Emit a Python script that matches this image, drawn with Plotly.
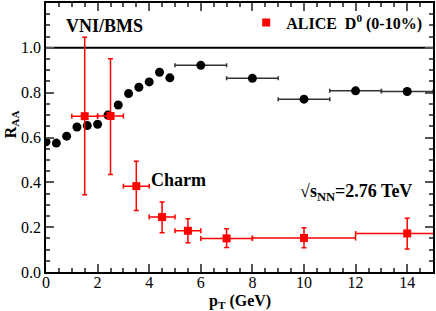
import plotly.graph_objects as go

# VNI/BMS charm prediction (black points)
vni_x_fine = [0, 0.4, 0.8, 1.2, 1.6, 2.0, 2.4, 2.8, 3.2, 3.6, 4.0, 4.4, 4.8]
vni_y_fine = [0.581, 0.575, 0.606, 0.647, 0.653, 0.659, 0.700, 0.745, 0.796, 0.824, 0.848, 0.891, 0.866]
vni_x_wide = [6, 8, 10, 12, 14]
vni_y_wide = [0.922, 0.864, 0.771, 0.808, 0.805]
vni_xerr_wide = [1, 1, 1, 1, 1]

# ALICE D0 (0-10%) data (red squares)
alice_x = [1.5, 2.5, 3.5, 4.5, 5.5, 7, 10, 14]
alice_y = [0.695, 0.696, 0.383, 0.245, 0.184, 0.150, 0.152, 0.172]
alice_yhi = [1.047, 0.951, 0.494, 0.312, 0.237, 0.193, 0.197, 0.240]
alice_ylo = [0.345, 0.435, 0.274, 0.175, 0.131, 0.109, 0.108, 0.103]
alice_xerr = [0.5, 0.5, 0.5, 0.5, 0.5, 1, 2, 2]

x_ticks = [0, 2, 4, 6, 8, 10, 12, 14]
y_ticks = [0.0, 0.2, 0.4, 0.6, 0.8, 1.0]
y_tick_labels = ["0.0", "0.2", "0.4", "0.6", "0.8", "1.0"]

SERIF = "Liberation Serif"

fig = go.Figure()

# reference line at R_AA = 1
fig.add_trace(go.Scatter(x=[0, 15], y=[1.0, 1.0], mode="lines",
                         line=dict(color="black", width=2), showlegend=False,
                         hoverinfo="skip"))

fig.add_trace(go.Scatter(x=vni_x_fine, y=vni_y_fine, mode="markers",
                         marker=dict(color="black", size=9, symbol="circle"),
                         showlegend=False))
fig.add_trace(go.Scatter(x=vni_x_wide, y=vni_y_wide, mode="markers",
                         marker=dict(color="black", size=9, symbol="circle"),
                         error_x=dict(type="data", array=vni_xerr_wide, color="#333333",
                                      thickness=1.5, width=2),
                         showlegend=False))

err_plus = [h - y for h, y in zip(alice_yhi, alice_y)]
err_minus = [y - l for l, y in zip(alice_ylo, alice_y)]
fig.add_trace(go.Scatter(x=alice_x, y=alice_y, mode="markers",
                         name="<b>ALICE  D<sup>0</sup> (0-10%)</b>",
                         marker=dict(color="#ff0000", size=8, symbol="square"),
                         error_y=dict(type="data", symmetric=False, array=err_plus,
                                      arrayminus=err_minus, color="#ff0000",
                                      thickness=1.5, width=2.5),
                         error_x=dict(type="data", array=alice_xerr, color="#ff0000",
                                      thickness=1.5, width=2.5),
                         showlegend=True))

axis_common = dict(showline=True, linecolor="black", linewidth=1.5, mirror="allticks",
                   ticks="inside", ticklen=8, tickwidth=1.5, tickcolor="#555555",
                   showgrid=False, zeroline=False,
                   tickfont=dict(family=SERIF, size=16, color="black"))

fig.update_xaxes(range=[0, 15], tickvals=x_ticks, ticklabelstandoff=-5,
                 minor=dict(ticks="inside", dtick=0.5, ticklen=4, tickwidth=1.5,
                            tickcolor="#555555", showgrid=False),
                 **axis_common)
fig.update_yaxes(range=[0, 1.2], tickvals=y_ticks, ticktext=y_tick_labels,
                 minor=dict(ticks="inside", dtick=0.05, ticklen=4, tickwidth=1.5,
                            tickcolor="#555555", showgrid=False),
                 **axis_common)

fig.add_annotation(text="<b>VNI/BMS</b>", xref="paper", yref="paper", x=0.046, y=0.915,
                   xanchor="left", yanchor="middle", showarrow=False,
                   font=dict(family=SERIF, size=18, color="black"))
fig.add_annotation(text="<b>Charm</b>", x=4.0, y=0.41, xanchor="left", yanchor="middle",
                   showarrow=False, font=dict(family=SERIF, size=18, color="black"))
fig.add_annotation(text="<b>√s<sub>NN</sub>=2.76 TeV</b>", x=9.75, y=0.355,
                   xanchor="left", yanchor="middle", showarrow=False,
                   font=dict(family=SERIF, size=18, color="black"))
fig.add_annotation(text="<b>p<sub>T</sub> (GeV)</b>", xref="paper", yref="paper",
                   x=0.5, y=-0.068, xanchor="center", yanchor="top", showarrow=False,
                   font=dict(family=SERIF, size=16, color="black"))
fig.add_annotation(text="<b>R<sub>AA</sub></b>", xref="paper", yref="paper",
                   x=-0.09, y=0.55, xanchor="center", yanchor="middle", textangle=-90,
                   showarrow=False, font=dict(family=SERIF, size=16, color="black"))

fig.update_layout(width=436, height=311,
                  margin=dict(l=46, r=3, t=1, b=39),
                  paper_bgcolor="white", plot_bgcolor="white",
                  font=dict(family=SERIF),
                  legend=dict(x=0.985, y=0.99, xanchor="right", yanchor="top",
                              bgcolor="rgba(0,0,0,0)", itemwidth=30,
                              font=dict(family=SERIF, size=16, color="black")),
                  showlegend=True)

fig.write_html("out.html", config={"displayModeBar": False},
               post_script="document.body.style.margin='0';document.body.style.padding='0';")
